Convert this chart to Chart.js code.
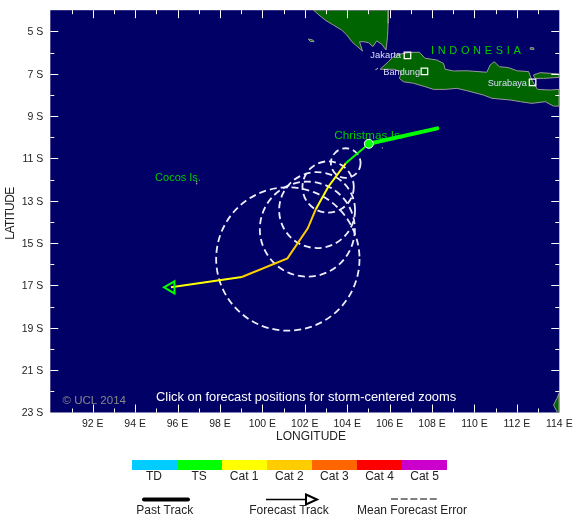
<!DOCTYPE html>
<html>
<head>
<meta charset="utf-8">
<title>Storm track map</title>
<script src="https://cdn.jsdelivr.net/npm/chart.js@4"></script>
<style>
  body { margin: 0; background: #fff; }
  canvas { display: block; }
</style>
</head>
<body>
<canvas id="map" width="580" height="526"></canvas>
<script>
const lonTicks = [92, 94, 96, 98, 100, 102, 104, 106, 108, 110, 112, 114];
const latTicks = [-5, -7, -9, -11, -13, -15, -17, -19, -21, -23];

const categories = ['TD', 'TS', 'Cat 1', 'Cat 2', 'Cat 3', 'Cat 4', 'Cat 5'];
const categoryColors = ['#00ccff', '#00ff00', '#ffff00', '#ffcc00', '#ff6600', '#ff0000', '#cc00cc'];

// track positions, degrees
const pastLon = [108.25, 105.02];
const pastLat = [-9.58, -10.31];
const forecastLon = [105.02, 103.93, 103.10, 102.52, 102.14, 101.18, 99.03, 95.69];
const forecastLat = [-10.31, -11.23, -12.35, -13.40, -14.30, -15.72, -16.60, -17.09];
const forecastCat = ['TS', 'Cat 1', 'Cat 1', 'Cat 2', 'Cat 2', 'Cat 2', 'Cat 1'];

// mean forecast error circles, degrees
const errorLon = [103.93, 103.10, 102.58, 102.12, 101.20];
const errorLat = [-11.22, -12.35, -13.44, -14.34, -15.75];
const errorRadius = [0.70, 1.21, 1.79, 2.24, 3.38];

// coastlines, [lon, lat]
const java = [[105.55,-6.79],[105.94,-6.43],[106.26,-6.12],[106.97,-5.99],[107.41,-5.99],[107.67,-6.27],[108.22,-6.35],[108.54,-6.51],[108.62,-6.79],[109.01,-6.87],[109.64,-6.86],[110.58,-6.93],[110.74,-6.59],[110.93,-6.43],[111.18,-6.67],[111.60,-6.71],[112.00,-6.86],[112.55,-6.90],[112.71,-7.30],[112.97,-7.74],[113.57,-7.77],[114,-7.74],[114,-8.53],[113.73,-8.53],[113.34,-8.32],[112.71,-8.40],[112.16,-8.32],[111.68,-8.24],[110.82,-8.16],[110.43,-8.01],[109.64,-7.80],[109.17,-7.69],[108.62,-7.74],[108.07,-7.74],[107.67,-7.61],[107.12,-7.45],[106.65,-7.38],[106.46,-7.22],[106.57,-6.90],[106.18,-6.79],[105.55,-6.79]];
const sumatra = [[102.41,-4],[105.94,-4],[105.93,-4.62],[105.90,-5.25],[105.83,-5.88],[105.63,-5.61],[105.39,-5.45],[105.21,-5.72],[105.00,-5.53],[104.77,-5.49],[104.58,-5.49],[104.72,-5.93],[104.45,-5.69],[104.22,-5.49],[103.98,-5.17],[103.74,-4.94],[103.35,-4.70],[103.00,-4.49],[102.72,-4.27],[102.41,-4]];
const madura = [[112.78,-7.06],[113.10,-6.95],[114,-7.01],[114,-7.17],[113.26,-7.22],[112.86,-7.22],[112.78,-7.06]];
const enggano = [[102.17,-5.36],[102.38,-5.41],[102.44,-5.49],[102.25,-5.47],[102.17,-5.36]];
const bawean = [[112.63,-5.77],[112.78,-5.77],[112.81,-5.85],[112.66,-5.85],[112.63,-5.77]];
const australia = [[114,-22.07],[114,-23],[113.91,-23],[113.73,-22.65],[113.89,-22.33],[114,-22.07]];
const islandLon = [96.9, 96.9, 105.66, 105.36, 105.42];
const islandLat = [-12.1, -12.2, -10.5, -6.8, -6.75];

const cityLon = [106.84, 107.64, 112.74];
const cityLat = [-6.13, -6.89, -7.41];

const toPoints = (lons, lats) => lons.map((lon, i) => ({ x: lon, y: lats[i] }));
const toCoast = (coast) => coast.map(([x, y]) => ({ x, y }));
const colorOf = (cat) => categoryColors[categories.indexOf(cat)];

const land = (label, coast) => ({
  label,
  data: toCoast(coast),
  showLine: true,
  fill: 'shape',
  backgroundColor: '#006400',
  borderColor: '#999999',
  borderWidth: 1,
  pointRadius: 0
});

const text = (ctx, str, x, y, font, color, align, spacing) => {
  ctx.font = font;
  ctx.fillStyle = color;
  ctx.textAlign = align || 'center';
  ctx.textBaseline = 'middle';
  ctx.letterSpacing = spacing || '0px';
  ctx.fillText(str, x, y);
  ctx.letterSpacing = '0px';
};

const FONT = '"Liberation Sans", Arial, sans-serif';

const mapPlugin = {
  id: 'mapPlugin',
  beforeDatasetsDraw(chart) {
    const { ctx, chartArea: a } = chart;
    ctx.save();
    ctx.fillStyle = '#000066';
    ctx.fillRect(a.left, a.top, a.right - a.left, a.bottom - a.top);
    ctx.restore();
  },
  // land is drawn first, labels and error circles go between it and the tracks
  afterDatasetDraw(chart, args) {
    if (args.meta.label !== 'Java') return;
    const { ctx, scales: { x, y } } = chart;
    ctx.save();

    text(ctx, 'Christmas Is.', 368.7, 136, '11.8px ' + FONT, '#00cc00');
    text(ctx, 'Cocos Is.', 178, 178.3, '11px ' + FONT, '#00cc00');
    text(ctx, 'I N D O N E S I A', 476, 51, '11px ' + FONT, '#00cc00', 'center', '0.3px');
    text(ctx, 'Jakarta', 385.7, 55, '9.4px ' + FONT, '#ddddff');
    text(ctx, 'Bandung', 401.7, 72, '9.2px ' + FONT, '#ddddff');
    text(ctx, 'Surabaya', 507.3, 83.3, '9.2px ' + FONT, '#ddddff');
    text(ctx, '\u00a9 UCL 2014', 62.5, 401, '11.5px ' + FONT, '#888888', 'left');
    text(ctx, 'Click on forecast positions for storm-centered zooms', 156, 397, '12.9px ' + FONT, '#ffffff', 'left');

    ctx.strokeStyle = '#eeeeff';
    ctx.lineWidth = 1.8;
    ctx.setLineDash([7, 4]);
    errorLon.forEach((lon, i) => {
      const r = errorRadius[i] * (x.getPixelForValue(1) - x.getPixelForValue(0));
      ctx.beginPath();
      ctx.arc(x.getPixelForValue(lon), y.getPixelForValue(errorLat[i]), r, 0, Math.PI * 2);
      ctx.stroke();
    });
    ctx.restore();
  },
  afterDraw(chart) {
    const { ctx, chartArea: a, scales: { x, y } } = chart;
    ctx.save();

    // inward ticks on all four sides
    ctx.strokeStyle = '#ffffff';
    ctx.lineWidth = 1;
    ctx.beginPath();
    x.ticks.forEach((t) => {
      if (t.value === x.min || t.value === x.max) return;
      const px = Math.round(x.getPixelForValue(t.value)) + 0.5;
      const len = lonTicks.includes(t.value) ? 8 : 4;
      ctx.moveTo(px, a.top); ctx.lineTo(px, a.top + len);
      ctx.moveTo(px, a.bottom); ctx.lineTo(px, a.bottom - len);
    });
    y.ticks.forEach((t) => {
      if (t.value === y.min || t.value === y.max) return;
      const py = Math.round(y.getPixelForValue(t.value)) + 0.5;
      const len = latTicks.includes(t.value) ? 8 : 4;
      ctx.moveTo(a.left, py); ctx.lineTo(a.left + len, py);
      ctx.moveTo(a.right, py); ctx.lineTo(a.right - len, py);
    });
    ctx.stroke();

    text(ctx, 'LONGITUDE', 311, 437, '12px ' + FONT, '#222222');
    ctx.save();
    ctx.translate(11, 213.5);
    ctx.rotate(-Math.PI / 2);
    text(ctx, 'LATITUDE', 0, 0, '12px ' + FONT, '#222222', 'center', '-0.6px');
    ctx.restore();

    // category bar
    categories.forEach((cat, i) => {
      ctx.fillStyle = categoryColors[i];
      ctx.fillRect(132 + i * 45, 460, 45, 10);
      text(ctx, cat, 154 + i * 45.1, 477, '12px ' + FONT, '#222222');
    });

    // track keys
    ctx.strokeStyle = '#000000';
    ctx.lineCap = 'round';
    ctx.lineWidth = 4;
    ctx.beginPath(); ctx.moveTo(144, 499.5); ctx.lineTo(188, 499.5); ctx.stroke();
    text(ctx, 'Past Track', 164.7, 511, '12px ' + FONT, '#222222');

    ctx.lineCap = 'butt';
    ctx.lineWidth = 1.5;
    ctx.beginPath(); ctx.moveTo(266, 499.5); ctx.lineTo(306, 499.5); ctx.stroke();
    ctx.lineWidth = 2;
    ctx.beginPath(); ctx.moveTo(306, 494.5); ctx.lineTo(317, 499.5); ctx.lineTo(306, 504.5); ctx.closePath(); ctx.stroke();
    text(ctx, 'Forecast Track', 289, 511, '12px ' + FONT, '#222222');

    ctx.lineWidth = 1;
    ctx.setLineDash([7, 2.7]);
    ctx.beginPath(); ctx.moveTo(391, 499); ctx.lineTo(437, 499); ctx.stroke();
    text(ctx, 'Mean Forecast Error', 412, 511, '12px ' + FONT, '#222222');
    ctx.restore();
  }
};

new Chart(document.getElementById('map'), {
  type: 'scatter',
  plugins: [mapPlugin],
  data: {
    // first dataset ends up on top
    datasets: [
      {
        label: 'Forecast head',
        data: toPoints(forecastLon, forecastLat).slice(-1),
        pointStyle: 'triangle',
        rotation: 270,
        pointRadius: 7,
        backgroundColor: 'rgba(0,0,0,0)',
        borderColor: '#00ff00',
        borderWidth: 2
      },
      {
        label: 'Current position',
        data: toPoints(pastLon, pastLat).slice(-1),
        pointRadius: 4.5,
        backgroundColor: '#00ff00',
        borderColor: '#ffffff',
        borderWidth: 1
      },
      {
        label: 'Past track',
        data: toPoints(pastLon, pastLat),
        showLine: true,
        borderColor: colorOf('TS'),
        borderWidth: 4,
        borderCapStyle: 'round',
        pointRadius: 0
      },
      {
        label: 'Forecast track',
        data: toPoints(forecastLon, forecastLat),
        showLine: true,
        borderColor: colorOf('TS'),
        borderWidth: 2,
        pointRadius: 0,
        segment: {
          borderColor: (c) => colorOf(forecastCat[c.p0DataIndex])
        }
      },
      {
        label: 'Cities',
        data: toPoints(cityLon, cityLat),
        pointStyle: 'rect',
        pointRadius: 4.6,
        backgroundColor: 'rgba(0,0,0,0)',
        borderColor: '#ffffff',
        borderWidth: 1.3
      },
      land('Java', java),
      land('Sumatra', sumatra),
      land('Madura', madura),
      land('Enggano', enggano),
      land('Bawean', bawean),
      land('Australia', australia),
      {
        label: 'Small islands',
        data: toPoints(islandLon, islandLat),
        pointRadius: 0.7,
        backgroundColor: '#bbbbbb',
        borderWidth: 0
      }
    ]
  },
  options: {
    responsive: false,
    animation: false,
    events: [],
    layout: {
      padding: { top: 10.2, right: 20.7, bottom: 83.5, left: 0 }
    },
    plugins: {
      legend: { display: false },
      tooltip: { enabled: false }
    },
    scales: {
      x: {
        type: 'linear',
        min: 90,
        max: 114,
        afterFit: (scale) => { scale.height = 30; scale.paddingLeft = 0; scale.paddingRight = 0; },
        grid: { display: false, drawTicks: false },
        border: { display: false },
        ticks: {
          stepSize: 1,
          autoSkip: false,
          maxRotation: 0,
          padding: 5,
          color: '#222222',
          font: { family: FONT, size: 10.5 },
          callback: (v) => (lonTicks.includes(v) ? v + ' E' : '')
        }
      },
      y: {
        type: 'linear',
        min: -23,
        max: -4,
        afterFit: (scale) => { scale.width = 50.3; scale.paddingTop = 0; scale.paddingBottom = 0; },
        grid: { display: false, drawTicks: false },
        border: { display: false },
        ticks: {
          stepSize: 1,
          autoSkip: false,
          padding: 7,
          labelOffset: 1,
          color: '#222222',
          font: { family: FONT, size: 10.5 },
          callback: (v) => (latTicks.includes(v) ? Math.abs(v) + ' S' : '')
        }
      }
    }
  }
});
</script>
</body>
</html>
